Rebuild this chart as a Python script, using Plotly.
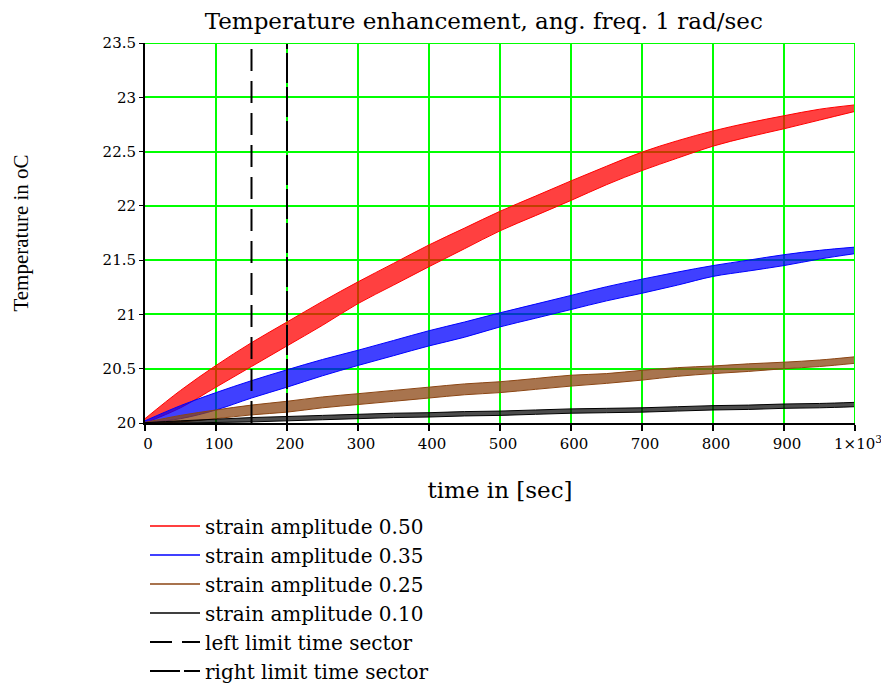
import plotly.graph_objects as go

# time grid (sec)
t = [0, 50, 100, 150, 200, 250, 300, 350, 400, 450, 500,
     550, 600, 650, 700, 750, 800, 850, 900, 950, 1000]

# mean temperature of each oscillating band (oC)
mean_050 = [20.02, 20.22, 20.43, 20.63, 20.82, 21.01, 21.20, 21.37, 21.54, 21.70, 21.86,
            22.00, 22.14, 22.28, 22.41, 22.52, 22.62, 22.70, 22.77, 22.84, 22.90]
mean_035 = [20.01, 20.10, 20.20, 20.31, 20.41, 20.51, 20.60, 20.69, 20.78, 20.86, 20.95,
            21.03, 21.11, 21.19, 21.26, 21.33, 21.40, 21.45, 21.50, 21.55, 21.59]
mean_025 = [20.00, 20.04, 20.08, 20.12, 20.15, 20.19, 20.22, 20.25, 20.28, 20.31, 20.33,
            20.36, 20.39, 20.41, 20.44, 20.47, 20.49, 20.51, 20.53, 20.55, 20.58]
mean_010 = [20.00, 20.01, 20.02, 20.03, 20.04, 20.05, 20.06, 20.07, 20.075, 20.085, 20.09,
            20.10, 20.11, 20.115, 20.12, 20.13, 20.14, 20.145, 20.155, 20.16, 20.17]

# half width of the oscillation band (oC)
half_050 = [0.02, 0.08, 0.10, 0.11, 0.11, 0.11, 0.10, 0.10, 0.10, 0.095, 0.09,
            0.09, 0.09, 0.085, 0.085, 0.08, 0.07, 0.065, 0.06, 0.05, 0.03]
half_035 = [0.01, 0.06, 0.08, 0.08, 0.08, 0.075, 0.07, 0.07, 0.07, 0.07, 0.065,
            0.065, 0.065, 0.065, 0.065, 0.06, 0.05, 0.05, 0.05, 0.04, 0.03]
half_025 = [0.005, 0.03, 0.04, 0.045, 0.05, 0.05, 0.05, 0.05, 0.05, 0.05, 0.05,
            0.05, 0.05, 0.045, 0.045, 0.04, 0.035, 0.035, 0.03, 0.03, 0.03]
half_010 = [0.003, 0.01, 0.015, 0.02, 0.02, 0.02, 0.02, 0.02, 0.02, 0.02, 0.02,
            0.02, 0.02, 0.02, 0.02, 0.02, 0.02, 0.02, 0.02, 0.02, 0.02]

names = ["strain amplitude 0.50", "strain amplitude 0.35",
         "strain amplitude 0.25", "strain amplitude 0.10"]
colors = ["#ff0000", "#0000ff", "#8b4513", "#000000"]
fills = ["rgba(255,0,0,0.75)", "rgba(0,0,255,0.75)",
         "rgba(139,69,19,0.75)", "rgba(0,0,0,0.7)"]

left_limit = 150
right_limit = 200

x_ticks = [0, 100, 200, 300, 400, 500, 600, 700, 800, 900, 1000]
x_ticktext = ["0", "100", "200", "300", "400", "500", "600", "700", "800", "900",
              "1\u00d710<sup>3</sup>"]
y_ticks = [20, 20.5, 21, 21.5, 22, 22.5, 23, 23.5]

times = "Liberation Serif, Times New Roman, serif"
wide = "DejaVu Serif, serif"

fig = go.Figure()

series = [(mean_050, half_050), (mean_035, half_035),
          (mean_025, half_025), (mean_010, half_010)]
for (m, h), col, fc in zip(series, colors, fills):
    lower = [a - b for a, b in zip(m, h)]
    upper = [a + b for a, b in zip(m, h)]
    fig.add_trace(go.Scatter(x=t, y=lower, mode="lines", showlegend=False,
                             line=dict(color=col, width=1, shape="spline")))
    fig.add_trace(go.Scatter(x=t, y=upper, mode="lines", showlegend=False,
                             line=dict(color=col, width=1, shape="spline"),
                             fill="tonexty", fillcolor=fc))

# legend entries for the bands
for name, col in zip(names, colors):
    fig.add_trace(go.Scatter(x=[None], y=[None], mode="lines", name=name,
                             line=dict(color=col, width=1.5)))

# time sector limits
fig.add_trace(go.Scatter(x=[left_limit, left_limit], y=[20, 23.5], mode="lines",
                         name="left limit time sector",
                         line=dict(color="black", width=2, dash="22px,10px")))
fig.add_trace(go.Scatter(x=[right_limit, right_limit], y=[20, 23.5], mode="lines",
                         name="right limit time sector",
                         line=dict(color="black", width=2, dash="30px,4px")))

# green frame on top and right
fig.add_shape(type="line", xref="x", yref="y", x0=0, x1=1000, y0=23.5, y1=23.5,
              line=dict(color="#00ff00", width=2))
fig.add_shape(type="line", xref="x", yref="y", x0=1000, x1=1000, y0=20, y1=23.5,
              line=dict(color="#00ff00", width=2))

# the page adds an 8px body margin, so the figure is drawn 8px smaller
fig.update_layout(
    width=881, height=681,
    margin=dict(l=137, r=34, t=35, b=266, autoexpand=False),
    paper_bgcolor="white", plot_bgcolor="white",
    font=dict(family=wide, color="black"),
    title=dict(text="Temperature enhancement, ang. freq. 1 rad/sec",
               x=0.540, xanchor="center", y=0.981, yanchor="middle",
               font=dict(family=wide, size=23)),
    xaxis=dict(range=[0, 1000], tickvals=x_ticks, ticktext=x_ticktext,
               showgrid=True, gridcolor="#00ff00", gridwidth=2,
               showline=True, linecolor="black", linewidth=2,
               ticks="outside", ticklen=6, tickcolor="black", tickwidth=2,
               tickfont=dict(size=15), ticklabelshift=3,
               zeroline=False, automargin=False,
               title=dict(text="time in [sec]", font=dict(size=23), standoff=30)),
    yaxis=dict(range=[20, 23.5], tickvals=y_ticks,
               showgrid=True, gridcolor="#00ff00", gridwidth=2,
               showline=True, linecolor="black", linewidth=2,
               ticks="outside", ticklen=4, tickcolor="black", tickwidth=1,
               tickfont=dict(size=15), zeroline=False, automargin=False,
               title=dict(text="Temperature in oC", font=dict(family=times, size=21),
                          standoff=68)),
    legend=dict(x=0.0, xanchor="left", y=-0.22, yanchor="top",
                font=dict(size=20), bgcolor="rgba(0,0,0,0)",
                traceorder="normal", tracegroupgap=0, itemwidth=50),
    showlegend=True,
)

fig.write_html("out.html")
